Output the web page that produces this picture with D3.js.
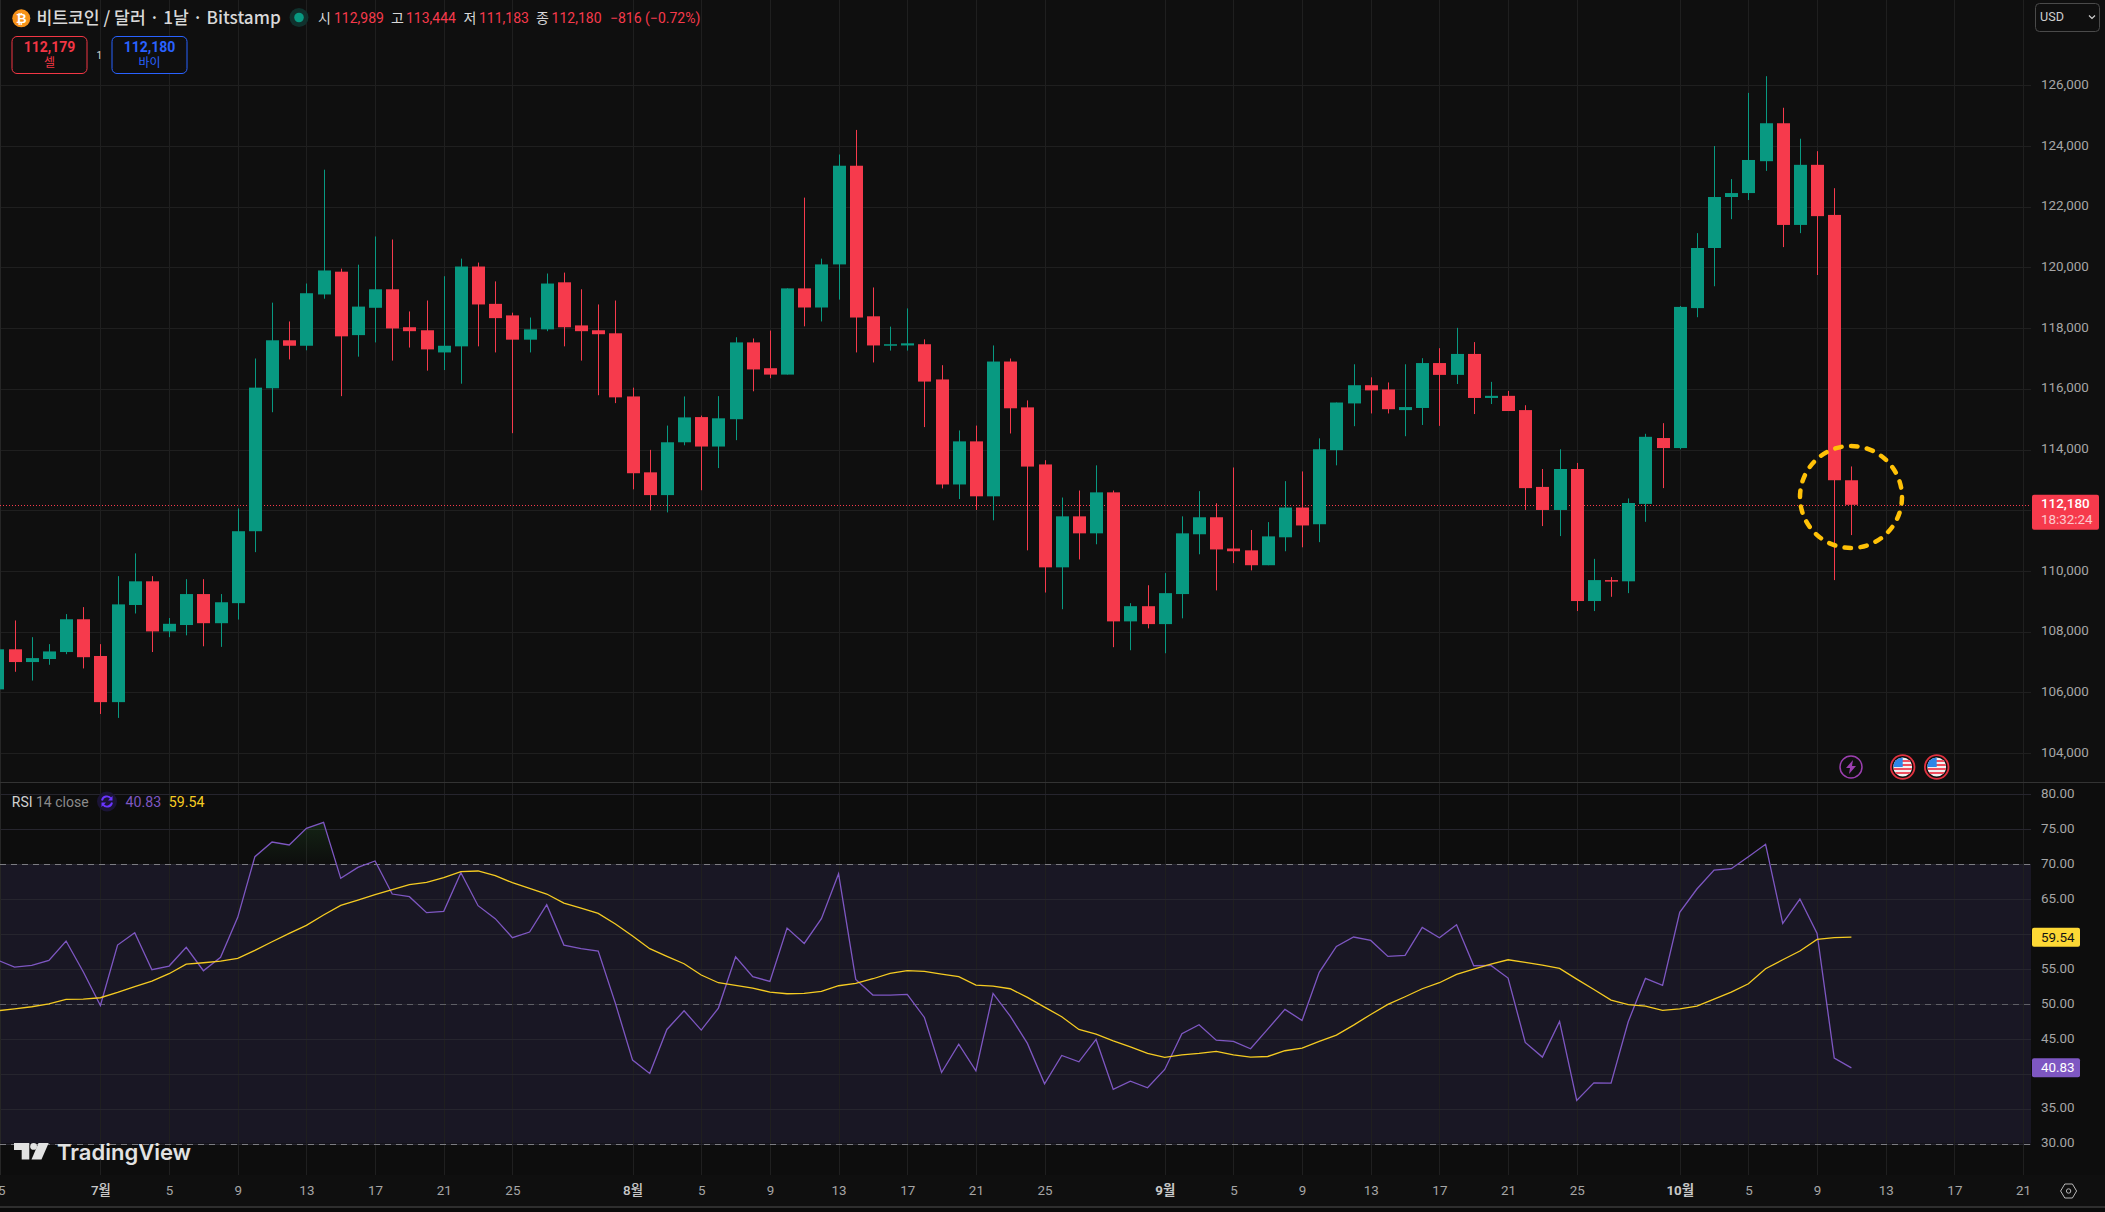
<!DOCTYPE html>
<html>
<head>
<meta charset="utf-8">
<style>
  html, body { margin: 0; padding: 0; background: #0f0f0f; overflow: hidden; }
  svg { display: block; }
  text { font-family: Roboto, "Noto Sans CJK KR", sans-serif; }
  .kr { font-family: "Noto Sans CJK KR", Roboto, sans-serif; }
  .domain { display: none; }
</style>
<script src="https://cdn.jsdelivr.net/npm/d3@7"></script>
</head>
<body>
<div id="chart"></div>
<script>
// daily candles, 25 Jun .. 11 Oct
var firstDay = "2025-06-25";
var opens = [106100,107420,107000,107100,107330,108410,
  107200,105680,108880,109660,108010,108220,109240,108280,108940,111310,116020,117600,117420,119110,119860,117770,118670,119280,118030,117930,117200,117400,120030,118800,118420,117620,117960,119510,118090,117930,117830,
  115750,113250,112500,114240,115070,114100,115000,117530,116680,116470,119310,118680,120100,123350,118390,117430,117430,117470,116310,112850,114270,112460,116900,115390,113510,110120,111800,111240,112590,108340,108840,
  108250,109240,111210,111770,110740,110680,110190,111110,112090,111540,113980,115520,116120,115980,115300,115370,116850,116460,117150,115700,115770,115300,112770,112010,113360,109010,109700,109660,112210,114380,
  114050,118660,120640,122320,122450,123500,124750,121400,123380,121730,112989];
var highs = [107710,108370,107820,107590,108580,108810,
  107590,109830,110580,109830,108450,109730,109730,109240,112060,117000,118840,118220,119470,123220,119960,120090,121020,120920,118550,118910,119710,120290,120160,119540,118510,118350,119800,119830,119280,118780,118910,
  116040,113990,114790,115750,115120,115760,117700,117660,117920,119310,122300,120290,123720,124530,119340,118050,118650,117630,116780,114630,114790,117430,117000,115620,113650,112420,112650,113480,112650,108940,109530,
  109930,111800,112630,112230,113410,111350,111610,112960,113280,114370,115550,116810,116380,116210,116810,117010,117340,118010,117540,116230,115930,115460,113360,114010,113560,110400,109800,112390,114520,114870,
  118730,121130,124000,122910,125750,126300,125260,124240,123830,122610,113444];
var lows = [105900,106680,106390,106910,107260,106790,
  105290,105160,108600,107330,107820,107880,107520,107500,108400,110620,115230,116970,117270,118970,115760,117060,117530,116930,117360,116600,116620,116170,117400,117200,114540,117200,117900,117400,116930,115790,115530,
  112690,112000,111930,114140,112660,113390,114310,115920,116350,116470,118060,118220,118940,117200,116870,117260,117260,114740,112720,112370,112010,111670,114530,110680,109290,108740,110380,110880,107490,107390,108110,
  107290,108440,110550,109360,110260,110020,110190,110650,110780,110950,113480,114770,115190,115190,114440,114810,114780,116160,115170,115500,115270,112010,111480,111150,108680,108680,109150,109270,111620,112730,
  114010,118360,119380,121590,122220,123180,120670,121130,119750,109700,111183];
var closes = [107420,107000,107130,107350,108410,107160,
  105680,108900,109660,108010,108260,109240,108280,108970,111310,116040,117600,117420,119150,119900,117730,118710,119280,117990,117900,117300,117420,120030,118780,118330,117620,117960,119470,118030,117900,117800,115720,
  113220,112500,114240,115060,114100,115030,117530,116640,116470,119310,118680,120100,123350,118350,117430,117470,117500,116240,112850,114270,112460,116900,115360,113440,110120,111800,111240,112590,108340,108840,108250,
  109270,111240,111770,110710,110650,110190,111140,112090,111500,114010,115550,116120,115950,115330,115400,116850,116460,117150,115700,115770,115270,112730,112010,113360,109010,109700,109660,112240,114420,114050,
  118700,120640,122320,122450,123540,124750,121400,123380,121690,112990,112180];

// RSI 14 and its moving average for the same days
var rsiValues = [56.27,55.26,55.50,56.22,58.99,54.59,
  49.77,58.41,60.18,54.88,55.41,58.08,54.74,56.65,62.38,71.07,73.17,72.74,75.13,75.99,67.97,69.54,70.45,65.72,65.34,63.05,63.24,68.78,64.05,62.19,59.47,60.28,64.19,58.41,57.89,57.56,50.06,
  41.94,40.03,46.33,49.00,46.24,49.39,56.74,53.88,53.21,60.85,58.65,62.19,68.63,53.50,51.25,51.25,51.35,48.05,40.17,44.23,40.41,51.49,48.24,44.33,38.55,42.61,41.70,44.90,37.74,38.93,37.98,
  40.60,45.71,47.00,44.80,44.61,43.56,46.38,49.20,47.62,54.50,58.22,59.56,59.08,56.79,56.93,60.95,59.47,61.33,55.45,55.50,53.69,44.47,42.37,47.48,36.16,38.69,38.64,47.43,53.64,52.64,
  63.09,66.44,69.16,69.35,71.07,72.84,61.52,65.00,60.09,42.23,40.83];
var rsiMa = [49.00,49.29,49.58,50.00,50.63,50.68,
  50.87,51.63,52.45,53.26,54.31,55.69,55.88,56.12,56.50,57.65,58.89,60.09,61.23,62.71,64.10,64.86,65.63,66.34,67.06,67.39,68.06,68.92,69.02,68.35,67.34,66.53,65.72,64.43,63.71,62.95,61.42,
  59.70,57.89,56.79,55.74,54.12,53.02,52.64,52.25,51.68,51.44,51.49,51.78,52.59,52.92,53.59,54.36,54.74,54.64,54.26,53.88,52.68,52.54,52.16,50.92,49.53,48.15,46.33,45.66,44.71,43.85,42.89,
  42.32,42.70,42.89,43.18,42.70,42.37,42.46,43.28,43.66,44.61,45.52,46.95,48.48,49.91,51.01,52.16,53.02,54.21,54.98,55.69,56.31,55.93,55.55,55.07,53.54,52.06,50.53,49.87,49.68,49.05,49.29,
  49.68,50.68,51.68,52.87,55.02,56.31,57.56,59.23,59.47,59.54];

var priceTicks = [104000,106000,108000,110000,112000,114000,116000,118000,120000,122000,124000,126000];
var rsiTicks = [30,35,40,45,50,55,60,65,70,75,80];
var rsiLevels = [30,50,70];
var tickDays = ["2025-06-25","2025-07-01","2025-07-05","2025-07-09","2025-07-13","2025-07-17","2025-07-21","2025-07-25",
  "2025-08-01","2025-08-05","2025-08-09","2025-08-13","2025-08-17","2025-08-21","2025-08-25",
  "2025-09-01","2025-09-05","2025-09-09","2025-09-13","2025-09-17","2025-09-21","2025-09-25",
  "2025-10-01","2025-10-05","2025-10-09","2025-10-13","2025-10-17","2025-10-21"];
var tickLabels = ["25","7월","5","9","13","17","21","25","8월","5","9","13","17","21","25","9월","5","9","13","17","21","25","10월","5","9","13","17","21"];

var width = 2105, height = 1212;
var plotRight = 2031;
var rsiTop = 783, rsiBottom = 1175;
var GREEN = "#089981", RED = "#f63a4c", GRID = "#1f1f1f", AXISTEXT = "#a6a6a6";
var YELLOW = "#f5cb22", PURPLE = "#7e57c2";

var parseDay = d3.utcParse("%Y-%m-%d");
var days = opens.map((d, i) => d3.utcDay.offset(parseDay(firstDay), i));
console.log(days.length, highs.length, lows.length, closes.length, rsiValues.length, rsiMa.length);

var candles = days.map((d, i) => ({day: d, open: opens[i], high: highs[i], low: lows[i], close: closes[i]}));

var x = d3.scaleUtc()
  .domain([parseDay("2025-07-01"), parseDay("2025-10-11")])
  .range([100.4, 1851.4]);
var y = d3.scaleLinear().domain([108000, 126000]).range([631.7, 85.3]);
var yRsi = d3.scaleLinear().domain([30, 80]).range([1143.5, 794.3]);

var svg = d3.select("#chart").append("svg")
  .attr("width", width)
  .attr("height", height);

svg.append("rect").attr("width", width).attr("height", height).attr("fill", "#0f0f0f");
svg.append("rect").attr("y", rsiTop).attr("width", width).attr("height", rsiBottom - rsiTop).attr("fill", "#0d0d0d");

var defs = svg.append("defs");
defs.append("clipPath").attr("id", "plotClip")
  .append("rect").attr("width", plotRight).attr("height", rsiBottom);
defs.append("clipPath").attr("id", "aboveOb")
  .append("rect").attr("width", plotRight).attr("y", rsiTop).attr("height", yRsi(70) - rsiTop);

var obGradient = defs.append("linearGradient").attr("id", "obFill")
  .attr("gradientUnits", "userSpaceOnUse")
  .attr("x1", 0).attr("x2", 0).attr("y1", yRsi(76)).attr("y2", yRsi(70));
obGradient.append("stop").attr("offset", 0).attr("stop-color", "#2e7d32").attr("stop-opacity", 0.2);
obGradient.append("stop").attr("offset", 1).attr("stop-color", "#2e7d32").attr("stop-opacity", 0.01);

var chartGroup = svg.append("g").attr("clip-path", "url(#plotClip)");

// RSI band under the grid
chartGroup.append("rect")
  .attr("x", 0).attr("width", plotRight)
  .attr("y", yRsi(70)).attr("height", yRsi(30) - yRsi(70))
  .attr("fill", "#191724");

// Grid lines
var tickDates = tickDays.map(parseDay);
var timeGrid = d3.axisBottom(x).tickValues(tickDates).tickSize(rsiBottom).tickFormat("");
chartGroup.append("g").attr("class", "time_grid").call(timeGrid)
  .selectAll("line").attr("stroke", GRID).attr("shape-rendering", "crispEdges");

var priceGrid = d3.axisRight(y).tickValues(priceTicks).tickSize(plotRight).tickFormat("");
chartGroup.append("g").attr("class", "price_grid").call(priceGrid)
  .selectAll("line").attr("stroke", GRID).attr("shape-rendering", "crispEdges");

var rsiGrid = d3.axisRight(yRsi).tickValues(rsiTicks).tickSize(plotRight).tickFormat("");
chartGroup.append("g").attr("class", "rsi_grid").call(rsiGrid)
  .selectAll("line").attr("stroke", "#26252e").attr("shape-rendering", "crispEdges");

// Left edge line
chartGroup.append("line").attr("x1", 0.5).attr("x2", 0.5).attr("y1", 0).attr("y2", rsiBottom).attr("stroke", "#262626");

// Last price line
var lastY = y(closes[closes.length - 1]);
chartGroup.append("line")
  .attr("x1", 0).attr("x2", plotRight)
  .attr("y1", Math.round(lastY) + 0.5).attr("y2", Math.round(lastY) + 0.5)
  .attr("stroke", RED).attr("stroke-width", 1).attr("stroke-dasharray", "1 2");

// Candles
var bodyWidth = 13;
var candleGroup = chartGroup.selectAll(".candle")
  .data(candles)
  .enter()
    .append("g")
    .attr("class", "candle");

candleGroup.append("line")
  .attr("x1", d => Math.round(x(d.day)) + 0.5)
  .attr("x2", d => Math.round(x(d.day)) + 0.5)
  .attr("y1", d => y(d.high))
  .attr("y2", d => y(d.low))
  .attr("stroke", d => d.close >= d.open ? GREEN : RED);

candleGroup.append("rect")
  .attr("x", d => Math.round(x(d.day)) + 0.5 - bodyWidth / 2)
  .attr("width", bodyWidth)
  .attr("y", d => y(Math.max(d.open, d.close)))
  .attr("height", d => Math.max(1.5, Math.abs(y(d.open) - y(d.close))))
  .attr("fill", d => d.close >= d.open ? GREEN : RED);

// Overbought fill, between the RSI line and the 70 level
var obArea = d3.area().x((d, i) => x(days[i])).y0(yRsi(70)).y1(d => yRsi(d));
chartGroup.append("path")
  .datum(rsiValues)
  .attr("d", obArea)
  .attr("fill", "url(#obFill)")
  .attr("clip-path", "url(#aboveOb)");

// RSI level lines
chartGroup.selectAll(".rsi_level")
  .data(rsiLevels)
  .enter()
    .append("line")
    .attr("class", "rsi_level")
    .attr("x1", 0).attr("x2", plotRight)
    .attr("y1", d => Math.round(yRsi(d)) + 0.5).attr("y2", d => Math.round(yRsi(d)) + 0.5)
    .attr("stroke", d => d == 50 ? "#5f5f66" : "#7c7c82").attr("stroke-dasharray", "6 5");

// RSI + MA lines
var rsiLine = d3.line().x((d, i) => x(days[i])).y(d => yRsi(d));
chartGroup.append("path").datum(rsiValues).attr("d", rsiLine)
  .attr("fill", "none").attr("stroke", PURPLE).attr("stroke-width", 1.3);
chartGroup.append("path").datum(rsiMa).attr("d", rsiLine)
  .attr("fill", "none").attr("stroke", YELLOW).attr("stroke-width", 1.3);

// Pane separators
svg.append("line").attr("x1", 0).attr("x2", width).attr("y1", 782.5).attr("y2", 782.5).attr("stroke", "#333");
svg.append("rect").attr("x", 0).attr("y", 1206).attr("width", width).attr("height", 2).attr("fill", "#2e2e2e");
svg.append("rect").attr("x", 0).attr("y", 1208).attr("width", width).attr("height", 4).attr("fill", "#0a0a0a");

// Axes
var priceAxis = d3.axisRight(y).tickValues(priceTicks).tickSize(0).tickPadding(0).tickFormat(d3.format(","));
var priceAxisGroup = svg.append("g").attr("transform", "translate(2041,-1.2)").call(priceAxis);
priceAxisGroup.selectAll("text").attr("fill", AXISTEXT).attr("font-size", 13.4);
// hidden behind the last price label in the original
priceAxisGroup.selectAll(".tick").filter(d => d == 112000).remove();

var rsiAxis = d3.axisRight(yRsi).tickValues(rsiTicks).tickSize(0).tickPadding(0).tickFormat(d3.format(".2f"));
var rsiAxisGroup = svg.append("g").attr("transform", "translate(2041,-1)").call(rsiAxis);
rsiAxisGroup.selectAll("text").attr("fill", AXISTEXT).attr("font-size", 13.4);

var timeAxis = d3.axisBottom(x).tickValues(tickDates).tickSize(0).tickPadding(0)
  .tickFormat((d, i) => tickLabels[i]);
var timeAxisGroup = svg.append("g").attr("transform", "translate(0,1185)").call(timeAxis);
timeAxisGroup.selectAll("text")
  .attr("font-size", 13.4)
  .attr("fill", d => d.getUTCDate() == 1 ? "#c8c8c8" : AXISTEXT)
  .attr("font-weight", d => d.getUTCDate() != 1 ? 400 : (d.getUTCMonth() < 8 ? 500 : 700));

// Last value labels
function valueLabel(yPos, fill, color, label) {
  svg.append("rect").attr("x", 2032).attr("y", yPos - 9.5).attr("width", 48).attr("height", 19)
    .attr("rx", 2).attr("fill", fill);
  svg.append("text").attr("x", 2041).attr("y", yPos + 4.5).attr("fill", color)
    .attr("font-size", 13.4).text(label);
}
valueLabel(yRsi(rsiMa[rsiMa.length - 1]), "#fdd835", "#131313", d3.format(".2f")(rsiMa[rsiMa.length - 1]));
valueLabel(yRsi(rsiValues[rsiValues.length - 1]), PURPLE, "#ffffff", d3.format(".2f")(rsiValues[rsiValues.length - 1]));

svg.append("rect").attr("x", 2032).attr("y", lastY - 10).attr("width", 67).attr("height", 35)
  .attr("rx", 2).attr("fill", RED);
svg.append("text").attr("x", 2041).attr("y", lastY + 3).attr("fill", "#fff").attr("font-size", 13.4)
  .attr("font-weight", 500).text(d3.format(",")(closes[closes.length - 1]));
svg.append("text").attr("x", 2041).attr("y", lastY + 19).attr("fill", "#ffffff").attr("opacity", 0.72)
  .attr("font-size", 13.4).text("18:32:24");

// Hand drawn ring round the last candle
svg.append("ellipse")
  .attr("cx", 1851).attr("cy", 497).attr("rx", 51).attr("ry", 51)
  .attr("fill", "none").attr("stroke", "#ffc107").attr("stroke-width", 4.5)
  .attr("stroke-linecap", "round").attr("stroke-dasharray", "6.5 9.5");

// Event markers on the price pane
var markerY = 767;
var bolt = svg.append("g").attr("transform", `translate(1851,${markerY})`);
bolt.append("circle").attr("r", 11).attr("fill", "#0f0f0f").attr("stroke", "#9c3fb0").attr("stroke-width", 1.5);
bolt.append("path").attr("d", "M2,-7 L-5,1 L-1,1 L-2,7 L5,-1 L1,-1 Z").attr("fill", "#9c3fb0");

function flagMarker(cx) {
  var g = svg.append("g").attr("transform", `translate(${cx},${markerY})`);
  g.append("circle").attr("r", 11.8).attr("fill", "#0f0f0f").attr("stroke", "#e0313f").attr("stroke-width", 1.8);
  var clipId = "flag" + Math.round(cx);
  g.append("clipPath").attr("id", clipId).append("circle").attr("r", 9.4);
  var f = g.append("g").attr("clip-path", `url(#${clipId})`);
  f.append("rect").attr("x", -10).attr("y", -10).attr("width", 20).attr("height", 20).attr("fill", "#f1f1f1");
  [-7, -3, 1, 5].forEach(s => f.append("rect").attr("x", -10).attr("y", s).attr("width", 20).attr("height", 2).attr("fill", "#ef4f5f"));
  f.append("rect").attr("x", -10).attr("y", -10).attr("width", 10).attr("height", 10).attr("fill", "#2e86e8");
}
flagMarker(1902.7);
flagMarker(1936.7);

// Header
var iconBtc = svg.append("g").attr("transform", "translate(21.3,18.3)");
iconBtc.append("circle").attr("r", 9).attr("fill", "#f7931a");
iconBtc.append("text").attr("text-anchor", "middle").attr("y", 4.5).attr("font-size", 13)
  .attr("font-weight", 700).attr("fill", "#fff").text("₿");

svg.append("text").attr("class", "kr").attr("x", 36.4).attr("y", 24).attr("font-size", 17.2)
  .attr("font-weight", 500).attr("fill", "#d9d9d9").text("비트코인 / 달러 · 1날 · Bitstamp");

svg.append("circle").attr("cx", 299).attr("cy", 17.5).attr("r", 9.5).attr("fill", "#10312d");
svg.append("circle").attr("cx", 299).attr("cy", 17.5).attr("r", 4.8).attr("fill", GREEN);

var ohlcLabels = [
  {x: 318, text: "시", fill: "#d9d9d9", kr: true}, {x: 334, text: "112,989", fill: RED},
  {x: 391, text: "고", fill: "#d9d9d9", kr: true}, {x: 406, text: "113,444", fill: RED},
  {x: 463.5, text: "저", fill: "#d9d9d9", kr: true}, {x: 479, text: "111,183", fill: RED},
  {x: 536, text: "종", fill: "#d9d9d9", kr: true}, {x: 551.6, text: "112,180", fill: RED},
  {x: 610, text: "−816 (−0.72%)", fill: RED}
];
svg.selectAll(".ohlc")
  .data(ohlcLabels)
  .enter()
    .append("text")
    .attr("class", d => d.kr ? "ohlc kr" : "ohlc")
    .attr("x", d => d.x).attr("y", 23)
    .attr("font-size", 14)
    .attr("fill", d => d.fill)
    .text(d => d.text);

// Sell / buy buttons
function tradeButton(bx, color, price, word) {
  svg.append("rect").attr("x", bx + 0.5).attr("y", 36.5).attr("width", 75).attr("height", 37)
    .attr("rx", 5).attr("fill", "#0f0f0f").attr("stroke", color);
  svg.append("text").attr("x", bx + 38).attr("y", 52).attr("text-anchor", "middle").attr("font-size", 14)
    .attr("font-weight", 700).attr("fill", color).text(price);
  svg.append("text").attr("class", "kr").attr("x", bx + 38).attr("y", 67).attr("text-anchor", "middle").attr("font-size", 12)
    .attr("fill", color).text(word);
}
tradeButton(11.5, "#f23645", "112,179", "셀");
tradeButton(111.5, "#2962ff", "112,180", "바이");
svg.append("text").attr("x", 99.4).attr("y", 59).attr("text-anchor", "middle").attr("font-size", 10).attr("fill", "#d9d9d9").text("1");

// USD selector
svg.append("rect").attr("x", 2035.5).attr("y", 3.5).attr("width", 64).attr("height", 28)
  .attr("rx", 4).attr("fill", "#0f0f0f").attr("stroke", "#4a4a4a");
svg.append("text").attr("x", 2040).attr("y", 21).attr("font-size", 12.6).attr("fill", "#cfcfcf").text("USD");
svg.append("path").attr("d", "M2089,15.5 l3,3 l3,-3").attr("fill", "none").attr("stroke", "#cfcfcf").attr("stroke-width", 1.2);

// RSI legend
svg.append("text").attr("x", 11.8).attr("y", 806.5).attr("font-size", 14).attr("fill", "#d1d1d1").text("RSI");
svg.append("text").attr("x", 36).attr("y", 806.5).attr("font-size", 14).attr("fill", "#8b8b8b").text("14 close");
var legendIcon = svg.append("g").attr("transform", "translate(107,801.5)");
legendIcon.append("circle").attr("r", 10).attr("fill", "#1b1436");
legendIcon.append("path").attr("d", "M-5,-1 A5,5 0 0 1 4,-3 M5,1 A5,5 0 0 1 -4,3")
  .attr("fill", "none").attr("stroke", "#6a35ff").attr("stroke-width", 1.9);
legendIcon.append("path").attr("d", "M5.5,-5.5 V-1 H1 Z M-5.5,5.5 V1 H-1 Z").attr("fill", "#6a35ff");
svg.append("text").attr("x", 125.6).attr("y", 806.5).attr("font-size", 14.2).attr("fill", PURPLE).text("40.83");
svg.append("text").attr("x", 168.8).attr("y", 806.5).attr("font-size", 14.2).attr("fill", YELLOW).text("59.54");

// TradingView mark
var logo = svg.append("g").attr("transform", "translate(14,1143)").attr("fill", "#e2e2e2");
logo.append("path").attr("d", "M0,0 H15.3 V16.5 H7.7 V7 H0 Z");
logo.append("circle").attr("cx", 19.6).attr("cy", 3.4).attr("r", 3.4);
logo.append("path").attr("d", "M24.5,0 H34.7 L27.5,16.5 H17.5 Z");
svg.append("text").attr("x", 57).attr("y", 1159.5)
  .style("font-family", "Inter, Roboto, sans-serif").attr("font-size", 22).attr("font-weight", 600)
  .attr("fill", "#e2e2e2").text("TradingView");

// Settings hexagon
var gear = svg.append("g").attr("transform", "translate(2068.6,1191)").attr("fill", "none").attr("stroke", "#b8b8b8");
gear.append("path").attr("d", "M-3.8,-7 H3.8 L8,0 L3.8,7 H-3.8 L-8,0 Z");
gear.append("circle").attr("r", 2.2);
</script>
</body>
</html>
